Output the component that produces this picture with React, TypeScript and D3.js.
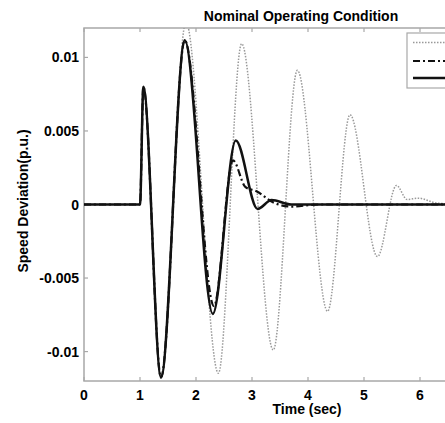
import React, { useEffect, useRef } from 'react';
import * as d3 from 'd3';

// time (sec), speed deviation (p.u.), peaks and troughs mostly
const noControl: [number, number][] = [
  [0, 0], [1.0, 0], [1.06, 0.008], [1.375, -0.0118], [1.82, 0.0124],
  [2.4, -0.01147], [2.815, 0.01093], [3.38, -0.00989], [3.81, 0.00912],
  [4.35, -0.00726], [4.75, 0.0061], [5.24, -0.00354], [5.58, 0.0013],
  [5.77, 0.00034], [5.97, 0.00043], [6.3, 0.0001], [6.8, 0], [8, 0],
];
const dashDotCase: [number, number][] = [
  [0, 0], [1.0, 0], [1.06, 0.008], [1.375, -0.01175], [1.8, 0.01116],
  [2.32, -0.0069], [2.66, 0.003], [2.88, 0.0012], [3.08, 0.0009],
  [3.4, 0.0001], [3.7, -0.00014], [4.2, 0], [8, 0],
];
const solidCase: [number, number][] = [
  [0, 0], [1.0, 0], [1.06, 0.008], [1.375, -0.01175], [1.8, 0.01116],
  [2.3, -0.00744], [2.71, 0.00435], [3.1, -0.0003], [3.35, 0.0003],
  [3.7, 0], [8, 0],
];

const timeTicks = [0, 1, 2, 3, 4, 5, 6, 7, 8];
const timeLabels = ['0', '1', '2', '3', '4', '5', '6']; // 7 and 8 fall off the right edge
const devTicks = [-0.01, -0.005, 0, 0.005, 0.01];
const devLabels = ['-0.01', '-0.005', '0', '0.005', '0.01'];

const W = 445, H = 423;

function SpeedChart() {
  const ref = useRef<SVGSVGElement>(null);

  useEffect(() => {
    const svg = d3.select(ref.current);
    svg.selectAll('*').remove();

    const left = 84, right = 532, top = 28, bottom = 381;
    const x = d3.scaleLinear().domain([0, 8]).range([left, right]);
    const y = d3.scaleLinear().domain([-0.012, 0.012]).range([bottom, top]);
    const font = 'Liberation Sans, Arial, sans-serif';
    const axisCol = '#a8a8a8';

    svg.append('rect').attr('width', W).attr('height', H).attr('fill', '#fff');

    svg.append('defs').append('clipPath').attr('id', 'plotclip')
      .append('rect')
      .attr('x', left).attr('y', top)
      .attr('width', right - left).attr('height', bottom - top);

    // box + inward ticks
    const ax = svg.append('g');
    ax.append('rect')
      .attr('x', left).attr('y', top)
      .attr('width', right - left).attr('height', bottom - top)
      .attr('fill', 'none').attr('stroke', axisCol).attr('stroke-width', 1.5);

    timeTicks.forEach(t => {
      ax.append('line').attr('x1', x(t)).attr('x2', x(t))
        .attr('y1', bottom).attr('y2', bottom - 4)
        .attr('stroke', axisCol).attr('stroke-width', 1.2);
      ax.append('line').attr('x1', x(t)).attr('x2', x(t))
        .attr('y1', top).attr('y2', top + 4)
        .attr('stroke', axisCol).attr('stroke-width', 1.2);
    });
    timeLabels.forEach((lbl, i) => {
      ax.append('text').attr('x', x(timeTicks[i])).attr('y', 399.5)
        .attr('text-anchor', 'middle')
        .attr('font-family', font).attr('font-weight', 'bold').attr('font-size', 14)
        .text(lbl);
    });
    devTicks.forEach((v, i) => {
      ax.append('line').attr('x1', left).attr('x2', left + 4)
        .attr('y1', y(v)).attr('y2', y(v))
        .attr('stroke', axisCol).attr('stroke-width', 1.2);
      ax.append('text').attr('x', 79).attr('y', y(v) + 5)
        .attr('text-anchor', 'end')
        .attr('font-family', font).attr('font-weight', 'bold').attr('font-size', 14)
        .text(devLabels[i]);
    });

    const line = d3.line<[number, number]>()
      .x(d => x(d[0]))
      .y(d => y(d[1]))
      .curve(d3.curveMonotoneX);

    const plot = svg.append('g').attr('clip-path', 'url(#plotclip)');
    plot.append('path').datum(noControl).attr('d', line)
      .attr('fill', 'none').attr('stroke', '#999').attr('stroke-width', 1.5)
      .attr('stroke-dasharray', '1.5 1.5');
    plot.append('path').datum(dashDotCase).attr('d', line)
      .attr('fill', 'none').attr('stroke', '#111').attr('stroke-width', 2.2)
      .attr('stroke-dasharray', '7 3 2 3');
    plot.append('path').datum(solidCase).attr('d', line)
      .attr('fill', 'none').attr('stroke', '#111').attr('stroke-width', 2.5);

    // legend (text falls outside the picture)
    const lg = svg.append('g');
    lg.append('rect').attr('x', 407).attr('y', 33).attr('width', 80).attr('height', 55)
      .attr('fill', '#fff').attr('stroke', axisCol).attr('stroke-width', 1.2);
    lg.append('line').attr('x1', 413).attr('x2', 450).attr('y1', 42.5).attr('y2', 42.5)
      .attr('stroke', '#999').attr('stroke-width', 1.5).attr('stroke-dasharray', '1.5 1.5');
    lg.append('line').attr('x1', 413).attr('x2', 450).attr('y1', 61).attr('y2', 61)
      .attr('stroke', '#111').attr('stroke-width', 2.2).attr('stroke-dasharray', '7 3 2 3');
    lg.append('line').attr('x1', 413).attr('x2', 450).attr('y1', 78).attr('y2', 78)
      .attr('stroke', '#111').attr('stroke-width', 2.5);

    svg.append('text').attr('x', 301).attr('y', 20.5)
      .attr('text-anchor', 'middle')
      .attr('font-family', font).attr('font-weight', 'bold').attr('font-size', 14)
      .text('Nominal Operating Condition');

    svg.append('text').attr('x', 307).attr('y', 414)
      .attr('text-anchor', 'middle')
      .attr('font-family', font).attr('font-weight', 'bold').attr('font-size', 14)
      .text('Time (sec)');

    svg.append('text')
      .attr('transform', 'translate(28,201) rotate(-90)')
      .attr('text-anchor', 'middle')
      .attr('font-family', font).attr('font-weight', 'bold').attr('font-size', 14)
      .text('Speed Deviation(p.u.)');
  }, []);

  return <svg ref={ref} width={W} height={H} style={{ position: 'absolute', left: 0, top: 0 }} />;
}

export default function App() {
  return <SpeedChart />;
}
